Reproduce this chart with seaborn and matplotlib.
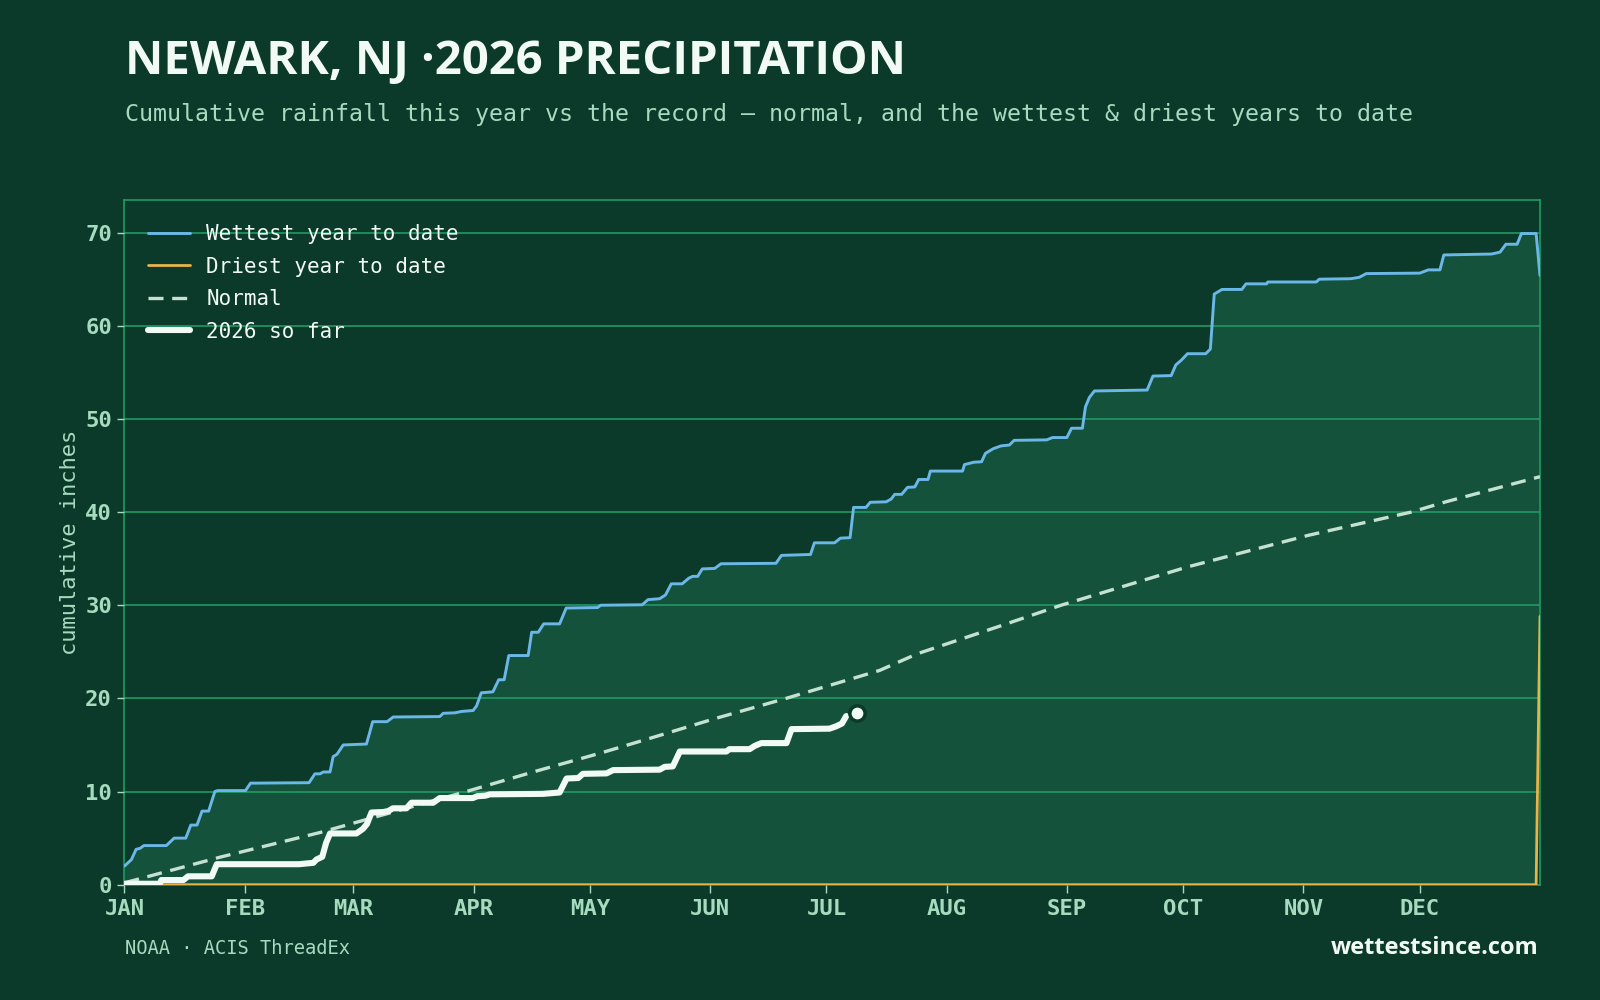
import numpy as np
import pandas as pd
import matplotlib
matplotlib.use("Agg")
import matplotlib.pyplot as plt
import seaborn as sns

# ---------------- data (day of year, cumulative inches) ----------------
month_labels = ["JAN", "FEB", "MAR", "APR", "MAY", "JUN",
                "JUL", "AUG", "SEP", "OCT", "NOV", "DEC"]
month_start_days = [0, 31, 59, 90, 120, 151, 181, 212, 243, 273, 304, 334]

wettest_days = [0, 1.8, 3, 4, 5, 10.8, 12.8, 15.8, 17.1, 18.7, 20, 21.7, 23.3, 24, 31.2,
                32.5, 47.6, 49.1, 50.4, 51.3, 53.0, 53.8, 54.8, 56.4, 62.4, 64, 67.7,
                69.3, 81.3, 82.2, 85.2, 86.9, 89.9, 90.8, 92, 95, 96.5, 97.9, 99.1, 104.1,
                105, 106.7, 108.1, 112.2, 113.9, 122, 122.8, 133.5, 135, 138, 139.5, 141,
                143.8, 145.5, 146.5, 147.8, 149, 152.2, 153.8, 168, 169.4, 176.9, 177.9,
                183.1, 184.6, 187.1, 188, 191.2, 192.3, 196.4, 197.7, 198.6, 200.4, 201.9,
                203.8, 204.8, 207.2, 207.8, 216.1, 216.6, 219, 221, 222, 224, 226, 228.2,
                229.4, 237.8, 239.3, 243, 244.2, 247, 247.8, 248.8, 250.1, 263.7, 265.2,
                269.9, 271.1, 272.5, 274.1, 278.8, 280, 281, 283, 288.1, 289.2, 294.5,
                294.8, 307.3, 308.1, 316.2, 318.4, 320.2, 334, 336.2, 339.2, 340.2, 352.5,
                354.7, 356.2, 359.1, 360.2, 364, 365]
wettest_vals = [2.0, 2.7, 3.8, 3.9, 4.2, 4.2, 5.0, 5.0, 6.4, 6.4, 7.9, 7.9, 10.0, 10.1, 10.1,
                10.9, 10.95, 11.9, 11.9, 12.1, 12.1, 13.75, 14.0, 15.0, 15.1, 17.5, 17.5,
                18.0, 18.05, 18.4, 18.45, 18.6, 18.7, 19.2, 20.6, 20.7, 22.0, 22.0, 24.6, 24.6,
                27.1, 27.1, 28.0, 28.0, 29.7, 29.75, 30.0, 30.05, 30.6, 30.7, 31.1, 32.3,
                32.3, 32.9, 33.1, 33.1, 33.9, 33.95, 34.45, 34.5, 35.35, 35.45, 36.7,
                36.7, 37.2, 37.25, 40.5, 40.5, 41.05, 41.1, 41.4, 41.9, 41.9, 42.65,
                42.7, 43.5, 43.5, 44.4, 44.4, 45.1, 45.35, 45.4, 46.3, 46.8, 47.1, 47.2,
                47.7, 47.75, 48.0, 48.0, 49.0, 49.0, 51.3, 52.3, 53.0, 53.1, 54.6,
                54.65, 55.8, 56.3, 57.0, 57.0, 57.5, 63.4, 63.9, 63.9, 64.5, 64.5,
                64.7, 64.7, 65.0, 65.05, 65.2, 65.6, 65.65, 66.0, 66.0, 67.6, 67.7,
                67.9, 68.75, 68.75, 69.9, 69.9, 65.4]

driest_days = [0, 364, 365]
driest_vals = [0.0, 0.0, 28.8]

normal_days = [0, 24.6, 50.4, 65.8, 87.3, 106.2, 122.5, 134.6, 152, 170.6, 194.7, 204.5,
               225.3, 241.5, 274, 305.2, 331.8, 340.7, 365]
normal_vals = [0.2, 2.95, 5.6, 7.4, 9.9, 12.2, 14.1, 15.6, 17.8, 20.0, 23.0, 24.8,
               27.7, 30.0, 34.1, 37.5, 40.0, 41.1, 43.8]

ytd_days = [0, 9.1, 9.5, 15.2, 16.4, 22.5, 23.8, 45, 48.7, 49.5, 51, 52, 53, 59.8, 61.5,
            62.5, 63.7, 66.7, 68, 69.2, 72.7, 74, 79.6, 81.3, 89.8, 91, 93, 94.2, 107.9,
            112.2, 114, 117, 118.2, 124.3, 126, 138, 139.3, 141.4, 143.2, 155.2, 156,
            161.2, 162.5, 164.2, 170.7, 172, 181.8, 183.5, 185, 186.1]
ytd_vals = [0.1, 0.1, 0.5, 0.5, 0.9, 0.9, 2.2, 2.2, 2.35, 2.7, 3.0, 4.5, 5.5, 5.5, 6.0,
            6.5, 7.75, 7.8, 7.9, 8.2, 8.2, 8.8, 8.8, 9.3, 9.3, 9.5, 9.55, 9.7, 9.75,
            9.9, 11.4, 11.45, 11.9, 11.95, 12.3, 12.35, 12.65, 12.7, 14.3, 14.3, 14.55,
            14.55, 14.9, 15.2, 15.2, 16.7, 16.75, 17.0, 17.3, 18.1]

today_day = 189
today_total = 18.4

y_ticks = [0, 10, 20, 30, 40, 50, 60, 70]

# ---------------- style ----------------
BG = "#0c3a2a"
FILL = "#14523b"
GRID = "#1f9a62"
MINT = "#a6dbbf"
WHITE = "#f2faf5"
BLUE = "#6bb8e8"
GOLD = "#e6b44a"
NORMAL_C = "#c4e2cf"

sns.set_theme(style="dark", rc={"axes.facecolor": BG, "figure.facecolor": BG})
plt.rcParams["font.family"] = ["DejaVu Sans Mono", "DejaVu Sans"]

fig = plt.figure(figsize=(16, 10), dpi=100)
fig.patch.set_facecolor(BG)
ax = fig.add_axes([0.0778, 0.1153, 0.8847, 0.6847])
ax.set_facecolor(BG)

# band between driest and wettest
band_x = np.concatenate([np.array(wettest_days), np.array(driest_days)[::-1]])
band_y = np.concatenate([np.array(wettest_vals), np.array(driest_vals)[::-1]])
ax.fill(band_x, band_y, color=FILL, lw=0, zorder=1)

sns.lineplot(x=wettest_days, y=wettest_vals, ax=ax, color=BLUE, lw=2.1,
             label="Wettest year to date", sort=False, estimator=None, zorder=3)
sns.lineplot(x=driest_days, y=driest_vals, ax=ax, color=GOLD, lw=2.0,
             label="Driest year to date", sort=False, estimator=None, zorder=3)
sns.lineplot(x=normal_days, y=normal_vals, ax=ax, color=NORMAL_C, lw=2.4,
             label="Normal", sort=False, estimator=None, zorder=4,
             dashes=False, linestyle=(0, (4.5, 2.6)))
sns.lineplot(x=ytd_days, y=ytd_vals, ax=ax, color=WHITE, lw=4.4,
             label="2026 so far", sort=False, estimator=None, zorder=5,
             solid_capstyle="round", solid_joinstyle="round")
ax.scatter([today_day], [today_total], s=120, color=WHITE, edgecolor=BG,
           linewidth=2.5, zorder=6)

ax.set_xlim(0, 365)
ax.set_ylim(0, 73.5)
ax.set_xticks(month_start_days)
ax.set_xticklabels(month_labels)
ax.set_yticks(y_ticks)
ax.set_yticklabels([str(v) for v in y_ticks])

ax.yaxis.grid(True, color=GRID, lw=1.2, zorder=2)
ax.xaxis.grid(False)
ax.set_axisbelow(False)
for s in ax.spines.values():
    s.set_visible(True)
    s.set_color(GRID)
    s.set_linewidth(1.2)

ax.tick_params(axis="x", length=6, width=1, color=MINT, pad=4, bottom=True,
               labelsize=16, labelcolor=MINT)
ax.tick_params(axis="y", length=5, width=1, color=MINT, pad=4, left=True,
               labelsize=16, labelcolor=MINT)
for lab in ax.get_xticklabels() + ax.get_yticklabels():
    lab.set_fontweight("bold")
    lab.set_family("DejaVu Sans Mono")

ax.set_xlabel("")
ax.set_ylabel("cumulative inches", color=MINT, fontsize=15.8, family="DejaVu Sans Mono",
              labelpad=4)

leg = ax.legend(loc="upper left", bbox_to_anchor=(0.002, 0.995), frameon=False,
                prop={"family": "DejaVu Sans Mono", "size": 15},
                handlelength=2.0, handletextpad=0.8, labelspacing=0.6,
                borderaxespad=0.6)
for t in leg.get_texts():
    t.set_color(WHITE)

fig.text(0.078, 0.939, "NEWARK, NJ \u00b72026 PRECIPITATION", color=WHITE,
         fontsize=34, fontweight="bold", family=["Open Sans", "DejaVu Sans"],
         va="center", ha="left")
fig.text(0.078, 0.885,
         "Cumulative rainfall this year vs the record \u2014 normal, and the wettest & driest years to date",
         color=MINT, fontsize=16.72, family="DejaVu Sans Mono", va="center", ha="left")
fig.text(0.078, 0.052, "NOAA \u00b7 ACIS ThreadEx", color=MINT, fontsize=13.5,
         family="DejaVu Sans Mono", va="center", ha="left")
fig.text(0.9615, 0.052, "wettestsince.com", color=WHITE, fontsize=17,
         fontweight="bold", family=["Open Sans", "DejaVu Sans"], va="center", ha="right")

fig.savefig("out.png", dpi=100, facecolor=BG)
